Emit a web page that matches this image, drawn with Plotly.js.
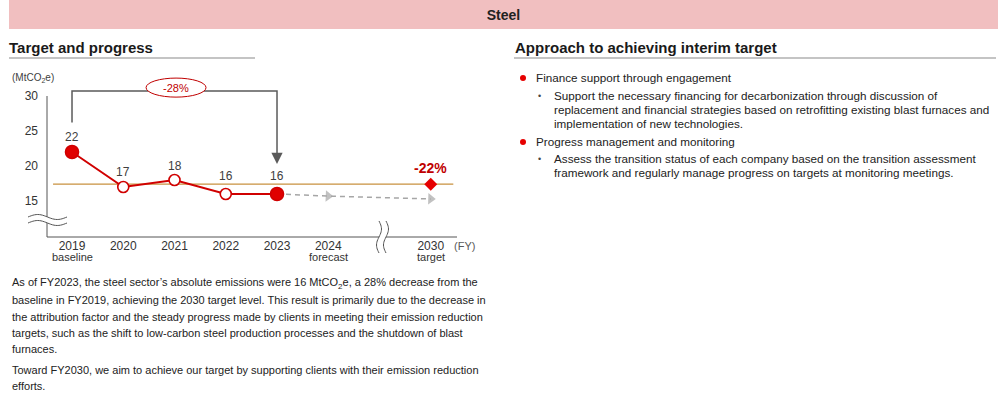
<!DOCTYPE html>
<html><head><meta charset="utf-8">
<script src="https://cdn.plot.ly/plotly-3.0.1.min.js"></script>
<style>
html,body{margin:0;padding:0}
body{width:1000px;height:399px;overflow:hidden;background:#fff;font-family:"Liberation Sans",Arial,sans-serif;color:#222;position:relative}
.abs{position:absolute}
.ttl{font-size:15px;font-weight:bold;color:#1a1a1a;line-height:18px;white-space:nowrap}
.rule{height:0;border-top:2px solid #c4c4c4}
.p{font-size:11px;line-height:16.3px;color:#222;white-space:nowrap}
.b{font-size:11.7px;line-height:14px;color:#222;white-space:nowrap}
.dot{width:6px;height:6px;border-radius:50%;background:#e60000}
.sb{font-size:9px;color:#444}
.sub{font-size:8px;position:relative;top:3px}
</style></head><body>
<div class="abs" style="left:9px;top:0;width:989px;height:29px;background:#f1bfc0;text-align:center;line-height:31px;font-weight:bold;font-size:14px;color:#222">Steel</div>
<div class="abs ttl" style="left:9px;top:39px">Target and progress</div>
<div class="abs rule" style="left:9px;top:57px;width:246px"></div>
<div class="abs ttl" style="left:515px;top:39px">Approach to achieving interim target</div>
<div class="abs rule" style="left:514px;top:57px;width:482px"></div>

<div id="chart" class="abs" style="left:0;top:60px;width:500px;height:210px"></div>

<div class="abs p" style="left:12px;top:274px">As of FY2023, the steel sector’s absolute emissions were 16 MtCO<span class="sub">2</span>e, a 28% decrease from the<br>baseline in FY2019, achieving the 2030 target level. This result is primarily due to the decrease in<br>the attribution factor and the steady progress made by clients in meeting their emission reduction<br>targets, such as the shift to low-carbon steel production processes and the shutdown of blast<br>furnaces.</div>
<div class="abs p" style="left:12px;top:362px">Toward FY2030, we aim to achieve our target by supporting clients with their emission reduction<br>efforts.</div>

<div class="abs dot" style="left:520px;top:75px"></div>
<div class="abs b" style="left:536px;top:71px">Finance support through engagement</div>
<div class="abs sb" style="left:538px;top:89px;line-height:14px">•</div>
<div class="abs b" style="left:554px;top:89px">Support the necessary financing for decarbonization through discussion of<br>replacement and financial strategies based on retrofitting existing blast furnaces and<br>implementation of new technologies.</div>
<div class="abs dot" style="left:520px;top:139px"></div>
<div class="abs b" style="left:536px;top:135px">Progress management and monitoring</div>
<div class="abs sb" style="left:538px;top:152px;line-height:14px">•</div>
<div class="abs b" style="left:554px;top:152px">Assess the transition status of each company based on the transition assessment<br>framework and regularly manage progress on targets at monitoring meetings.</div>

<script>
// ---- data ----
const yearLabels = ['2019', '2020', '2021', '2022', '2023', '2024', '2030'];
const yearSubLabels = ['baseline', '', '', '', '', 'forecast', 'target'];
const yearSlots = [0, 1, 2, 3, 4, 5, 7];           // category slots (axis break between 2024 and 2030)
const actualSlots = [0, 1, 2, 3, 4];
const actualValues = [22, 17, 18, 16, 16];
const actualLabels = ['22', '17', '18', '16', '16'];
const forecastSlots = [4, 5, 7];
const forecastValues = [16, 15.7, 15.3];
const targetSlot = 7;
const targetValue = 17.4;
const targetLabel = '-22%';
const reductionLabel = '-28%';
const yTicks = [15, 20, 25, 30];

// ---- geometry helpers (chart div: plot area x 47..457, y 75..237 page px) ----
const PL = 47, PR = 457, PB = 237, PT = 75;
const px = x => (x - PL) / (PR - PL);
const py = y => (PB - y) / (PB - PT);
function hWave(x0, x1, yc, amp) {
  let d = '';
  for (let i = 0; i <= 24; i++) {
    const x = x0 + (x1 - x0) * i / 24;
    const y = yc - amp * Math.sin(2 * Math.PI * i / 24);
    d += (i ? ' L' : 'M') + px(x).toFixed(4) + ',' + py(y).toFixed(4);
  }
  return d;
}
function vWave(xc, y0, y1, amp) {
  let d = '';
  for (let i = 0; i <= 24; i++) {
    const y = y0 + (y1 - y0) * i / 24;
    const x = xc + amp * Math.sin(2 * Math.PI * i / 24);
    d += (i ? ' L' : 'M') + px(x).toFixed(4) + ',' + py(y).toFixed(4);
  }
  return d;
}
function bandH(x0, x1, yA, yB, amp) {
  let top = [], bot = [];
  for (let i = 0; i <= 24; i++) {
    const x = x0 + (x1 - x0) * i / 24;
    const s = amp * Math.sin(2 * Math.PI * i / 24);
    top.push(px(x).toFixed(4) + ',' + py(yA - s).toFixed(4));
    bot.push(px(x).toFixed(4) + ',' + py(yB - s).toFixed(4));
  }
  return 'M' + top.join(' L') + ' L' + bot.reverse().join(' L') + ' Z';
}
function bandV(xA, xB, y0, y1, amp) {
  let l = [], r = [];
  for (let i = 0; i <= 24; i++) {
    const y = y0 + (y1 - y0) * i / 24;
    const s = amp * Math.sin(2 * Math.PI * i / 24);
    l.push(px(xA + s).toFixed(4) + ',' + py(y).toFixed(4));
    r.push(px(xB + s).toFixed(4) + ',' + py(y).toFixed(4));
  }
  return 'M' + l.join(' L') + ' L' + r.reverse().join(' L') + ' Z';
}

const RED = '#e60000', DRED = '#c00000', AX = '#555555';
const FONT = '"Liberation Sans", Arial, sans-serif';

const traces = [
  { // bracket from baseline to latest
    x: [actualSlots[0], actualSlots[0], actualSlots[4], actualSlots[4]],
    y: [actualValues[0] + 4.2, 30.7, 30.7, actualValues[4] + 5],
    mode: 'lines', line: { color: '#5a5a5a', width: 1.5 }, hoverinfo: 'skip'
  },
  { // target line
    x: [-0.37, 7.44], y: [targetValue, targetValue],
    mode: 'lines', line: { color: '#c8913f', width: 1.2 }, hoverinfo: 'skip'
  },
  { // forecast dashed arrows
    x: forecastSlots, y: forecastValues, mode: 'lines+markers',
    line: { color: '#a6a6a6', width: 1.5, dash: '5px,4px' },
    marker: { symbol: 'triangle-up', angleref: 'previous', size: [0, 10, 10], color: '#a6a6a6', line: { width: 0 } },
    cliponaxis: false, hoverinfo: 'skip'
  },
  { // actual emissions
    x: actualSlots, y: actualValues, mode: 'lines+markers',
    line: { color: '#d00000', width: 2 },
    marker: {
      size: [13, 11, 11, 11, 13], opacity: 1,
      color: ['#e00000', '#ffffff', '#ffffff', '#ffffff', '#e00000'],
      line: { color: '#d00000', width: 1.6 }
    },
    cliponaxis: false, hoverinfo: 'skip'
  },
  { // target marker
    x: [targetSlot], y: [targetValue], mode: 'markers',
    marker: { symbol: 'diamond', size: 10, color: RED },
    cliponaxis: false, hoverinfo: 'skip'
  }
];

const annotations = [];
const labelShift = [15, 15, 14, 18, 18];
actualSlots.forEach((s, i) => annotations.push({
  x: s, y: actualValues[i], text: actualLabels[i], showarrow: false,
  yanchor: 'middle', yshift: labelShift[i], font: { size: 12, color: '#404040', family: FONT }
}));
yearSlots.forEach((s, i) => {
  if (yearSubLabels[i]) annotations.push({
    x: s, xref: 'x', y: 0, yref: 'paper', text: yearSubLabels[i], showarrow: false,
    yanchor: 'middle', yshift: -20, font: { size: 11, color: '#333', family: FONT }
  });
});
annotations.push({
  x: targetSlot, y: targetValue, text: '<b>' + targetLabel + '</b>', showarrow: false,
  yanchor: 'middle', yshift: 16, font: { size: 14, color: DRED, family: FONT }
});
annotations.push({
  x: actualSlots[4], y: actualValues[4] + 4.3, ax: actualSlots[4], ay: actualValues[4] + 6,
  axref: 'x', ayref: 'y', xref: 'x', yref: 'y', text: ' ', showarrow: true,
  arrowhead: 2, arrowsize: 1.5, arrowwidth: 1.5, arrowcolor: '#5a5a5a'
});
annotations.push({
  x: 2.03, y: 31.2, text: reductionLabel, showarrow: false, yanchor: 'middle',
  font: { size: 11, color: DRED, family: FONT }
});
annotations.push({
  x: px(452), xref: 'paper', y: 0, yref: 'paper', text: '(FY)', showarrow: false,
  xanchor: 'left', yanchor: 'middle', yshift: -9, font: { size: 11, color: '#595959', family: FONT }
});
annotations.push({
  x: px(10), xref: 'paper', y: py(78), yref: 'paper', text: '(MtCO<sub>2</sub>e)', showarrow: false,
  xanchor: 'left', yanchor: 'middle', font: { size: 10, color: '#404040', family: FONT }
});

const shapes = [
  { type: 'line', xref: 'paper', yref: 'y', x0: 0, x1: 0, y0: 9.857, y1: 30, line: { color: AX, width: 1 }, layer: 'above' },
  { type: 'line', xref: 'paper', yref: 'paper', x0: 0, x1: 1, y0: 0, y1: 0, line: { color: AX, width: 1 }, layer: 'above' },
  { type: 'circle', xref: 'x', yref: 'y', x0: 2.03 - 0.585, x1: 2.03 + 0.585, y0: 31.2 - 1.36, y1: 31.2 + 1.36,
    fillcolor: '#ffffff', line: { color: DRED, width: 1 }, layer: 'above' },
  { type: 'path', xref: 'paper', yref: 'paper', path: bandH(28, 67, 217, 223, 2.5), fillcolor: '#ffffff', line: { width: 0 }, layer: 'above' },
  { type: 'path', xref: 'paper', yref: 'paper', path: hWave(28, 67, 217, 2.5), line: { color: '#555', width: 1 }, layer: 'above' },
  { type: 'path', xref: 'paper', yref: 'paper', path: hWave(28, 67, 223, 2.5), line: { color: '#555', width: 1 }, layer: 'above' },
  { type: 'path', xref: 'paper', yref: 'paper', path: bandV(379, 386, 221, 253, 2.5), fillcolor: '#ffffff', line: { width: 0 }, layer: 'above' },
  { type: 'path', xref: 'paper', yref: 'paper', path: vWave(379, 221, 253, 2.5), line: { color: '#555', width: 1 }, layer: 'above' },
  { type: 'path', xref: 'paper', yref: 'paper', path: vWave(386, 221, 253, 2.5), line: { color: '#555', width: 1 }, layer: 'above' }
];

const layout = {
  width: 500, height: 210,
  margin: { l: PL, r: 500 - PR, t: PT - 60, b: 270 - PB, pad: 0 },
  paper_bgcolor: '#ffffff', plot_bgcolor: '#ffffff',
  showlegend: false,
  font: { family: FONT, color: '#333' },
  xaxis: {
    range: [-0.488, 7.512], tickvals: yearSlots, ticktext: yearLabels,
    showgrid: false, zeroline: false, showline: false, ticks: '',
    tickfont: { size: 12, color: '#333', family: FONT }, fixedrange: true
  },
  yaxis: {
    range: [9.857, 33], tickvals: yTicks, showgrid: false, zeroline: false, showline: false,
    ticks: '', ticklabelstandoff: 8,
    tickfont: { size: 12, color: '#333', family: FONT }, fixedrange: true
  },
  annotations, shapes
};

Plotly.newPlot('chart', traces, layout, { staticPlot: true, displayModeBar: false });
</script>
</body></html>
